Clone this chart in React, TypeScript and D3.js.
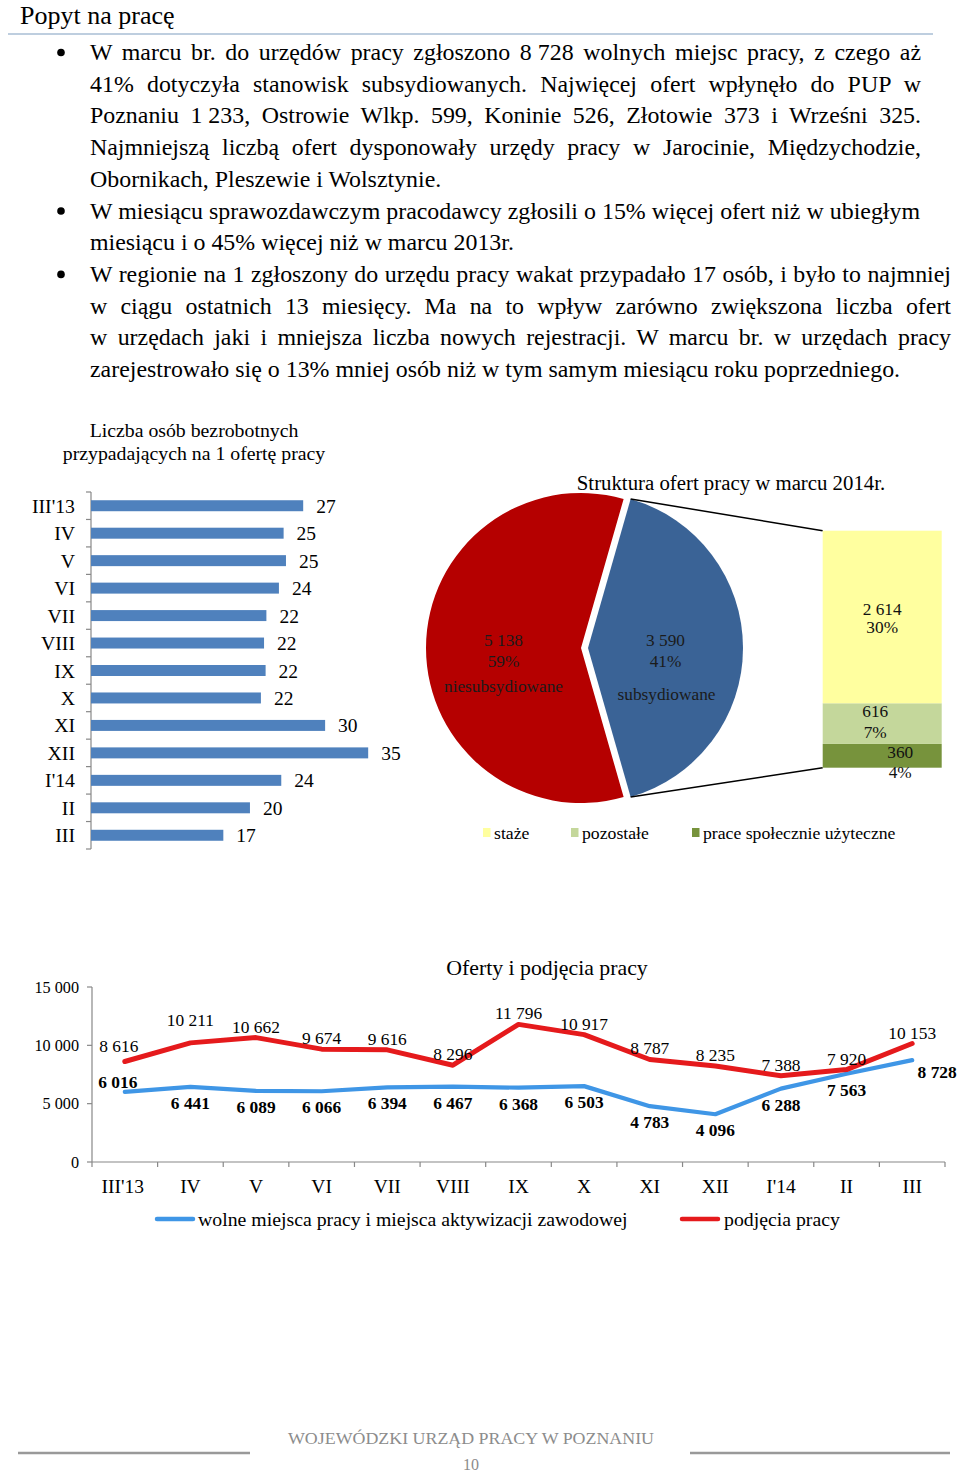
import React, { useLayoutEffect, useRef } from "react";
import * as d3 from "d3";

const FONT = "'Liberation Serif','Times New Roman',Times,serif";

// ---------- text ----------
const pageTitle = "Popyt na pracę";
const bulletParagraphs = [
  {
    right: 921,
    lines: [
      "W marcu br. do urzędów pracy zgłoszono 8 728 wolnych miejsc pracy, z czego aż",
      "41% dotyczyła stanowisk subsydiowanych. Najwięcej ofert wpłynęło do PUP w",
      "Poznaniu 1 233, Ostrowie Wlkp. 599, Koninie 526, Złotowie 373 i Wrześni 325.",
      "Najmniejszą liczbą ofert dysponowały urzędy pracy w Jarocinie, Międzychodzie,",
      "Obornikach, Pleszewie i Wolsztynie.",
    ],
  },
  {
    right: 920,
    lines: [
      "W miesiącu sprawozdawczym pracodawcy zgłosili o 15% więcej ofert niż w ubiegłym",
      "miesiącu i o 45% więcej niż w marcu 2013r.",
    ],
  },
  {
    right: 951,
    lines: [
      "W regionie na 1 zgłoszony do urzędu pracy wakat przypadało 17 osób, i było to najmniej",
      "w ciągu ostatnich 13 miesięcy. Ma na to wpływ zarówno zwiększona liczba ofert",
      "w urzędach jaki i mniejsza liczba nowych rejestracji. W marcu br. w urzędach pracy",
      "zarejestrowało się o 13% mniej osób niż w tym samym miesiącu roku poprzedniego.",
    ],
  },
];

// ---------- chart 1: bezrobotni na 1 ofertę ----------
const ratioTitle = ["Liczba osób bezrobotnych", "przypadających na 1 ofertę pracy"];
const ratioCategories = ["III'13", "IV", "V", "VI", "VII", "VIII", "IX", "X", "XI", "XII", "I'14", "II", "III"];
const ratioValues = [27.1, 24.6, 24.9, 24.0, 22.4, 22.1, 22.3, 21.7, 29.9, 35.4, 24.3, 20.3, 16.9];

// ---------- chart 2: struktura ofert ----------
const pieTitle = "Struktura ofert pracy w marcu 2014r.";
const pieNames = ["subsydiowane", "niesubsydiowane"];
const pieValues = [3590, 5138];
const subNames = ["prace społecznie użyteczne", "pozostałe", "staże"];
const subValues = [360, 616, 2614];
const legendOrder = ["staże", "pozostałe", "prace społecznie użyteczne"];

// ---------- chart 3: oferty i podjęcia ----------
const lineTitle = "Oferty i podjęcia pracy";
const months = ["III'13", "IV", "V", "VI", "VII", "VIII", "IX", "X", "XI", "XII", "I'14", "II", "III"];
const offers = [6016, 6441, 6089, 6066, 6394, 6467, 6368, 6503, 4783, 4096, 6288, 7563, 8728];
const placements = [8616, 10211, 10662, 9674, 9616, 8296, 11796, 10917, 8787, 8235, 7388, 7920, 10153];
const yTicks = [0, 5000, 10000, 15000];
const offersName = "wolne miejsca pracy i miejsca aktywizacji zawodowej";
const placementsName = "podjęcia pracy";

const footerText = "WOJEWÓDZKI URZĄD PRACY W POZNANIU";
const pageNumber = "10";

const locale = d3.formatLocale({ decimal: ",", thousands: " ", grouping: [3], currency: ["", ""] });
const fmt = locale.format(",d");
const pct = (v: number) => Math.round(v * 100) + "%";

const PROTECT = /(\d \d{3})/;

function Body() {
  const refs = useRef<(SVGTextElement | null)[]>([]);
  const items: { text: string; y: number; target: number | null; bullet: boolean }[] = [];
  let i = 0;
  bulletParagraphs.forEach((p) => {
    p.lines.forEach((l, j) => {
      items.push({
        text: l,
        y: 60 + 31.7 * i,
        target: j < p.lines.length - 1 ? p.right : null,
        bullet: j === 0,
      });
      i++;
    });
  });
  useLayoutEffect(() => {
    const run = () => {
      items.forEach((it, k) => {
        const el = refs.current[k];
        if (!el || it.target == null) return;
        el.setAttribute("word-spacing", "0");
        const w = el.getComputedTextLength();
        const protectedCount = (it.text.match(/\d \d{3}/g) || []).length;
        const spaces = (it.text.match(/ /g) || []).length - protectedCount;
        const ws = (it.target - 90 - w) / Math.max(1, spaces);
        el.setAttribute("word-spacing", String(ws));
      });
    };
    run();
    if ((document as any).fonts) (document as any).fonts.ready.then(run);
  });
  return (
    <g fontFamily={FONT} fontSize={23.9} fill="#000">
      {items.map((it, k) => (
        <g key={k}>
          {it.bullet && <circle cx={61} cy={it.y - 7.5} r={3.8} fill="#000" />}
          <text ref={(el) => (refs.current[k] = el)} x={90} y={it.y}>
            {it.text.split(PROTECT).map((s, m) =>
              PROTECT.test(s) ? (
                <tspan key={m} wordSpacing={0} style={{ wordSpacing: "0px" }}>
                  {s}
                </tspan>
              ) : (
                <tspan key={m}>{s}</tspan>
              )
            )}
          </text>
        </g>
      ))}
    </g>
  );
}

function RatioChart() {
  const x = d3.scaleLinear().domain([0, 40]).range([91, 404.2]);
  const y = d3.scaleBand<string>().domain(ratioCategories).range([492, 849]).paddingInner(0.6).paddingOuter(0.3);
  const step = y.step();
  return (
    <g fontFamily={FONT}>
      {ratioTitle.map((t, k) => (
        <text key={k} x={194} y={437 + k * 23} textAnchor="middle" fontSize={19.8}>
          {t}
        </text>
      ))}
      <line x1={91} x2={91} y1={492} y2={849} stroke="#888" strokeWidth={1.2} />
      {d3.range(ratioCategories.length + 1).map((k) => (
        <line key={k} x1={86} x2={91} y1={492 + k * step} y2={492 + k * step} stroke="#888" strokeWidth={1.2} />
      ))}
      {ratioCategories.map((c, k) => {
        const cy = (y(c) as number) + y.bandwidth() / 2;
        return (
          <g key={c}>
            <rect x={x(0)} y={y(c)} width={x(ratioValues[k]) - x(0)} height={y.bandwidth()} fill="#4f81bd" />
            <text x={75} y={cy + 7} textAnchor="end" fontSize={19.8}>
              {c}
            </text>
            <text x={x(ratioValues[k]) + 13} y={cy + 7} fontSize={19.5}>
              {Math.round(ratioValues[k])}
            </text>
          </g>
        );
      })}
    </g>
  );
}

function PieChart() {
  const cx = 584.5,
    cy = 648,
    r = 155,
    explode = 3.5;
  const total = d3.sum(pieValues);
  const start = Math.PI / 2 - (pieValues[0] / total) * Math.PI;
  const arcs = d3
    .pie<number>()
    .sort(null)
    .startAngle(start)
    .endAngle(start + 2 * Math.PI)(pieValues);
  const arcGen = d3.arc<d3.PieArcDatum<number>>().innerRadius(0).outerRadius(r);
  const colors = ["#3a6396", "#b50000"];
  const nameDy = [52, 44];

  // stacked column
  const bx0 = 822.7,
    bx1 = 941.7;
  const sy = d3.scaleLinear().domain([0, pieValues[0]]).range([767.7, 530.7]);
  const subColors = ["#77933c", "#c4d79b", "#ffff9f"];
  const subLabelPos = [
    { dx: 18, dy1: 2, dy2: 22 },
    { dx: -7, dy1: -7, dy2: 14 },
    { dx: 0, dy1: -2, dy2: 16 },
  ];
  let acc = 0;
  const segs = subValues.map((v, k) => {
    const s = { k, y0: acc, y1: acc + v, v };
    acc += v;
    return s;
  });
  const blue = arcs[0];
  const bMid = (blue.startAngle + blue.endAngle) / 2;
  const bcx = cx + Math.sin(bMid) * explode;
  const bcy = cy - Math.cos(bMid) * explode;
  const pTop = [bcx + r * Math.sin(blue.startAngle), bcy - r * Math.cos(blue.startAngle)];
  const pBot = [bcx + r * Math.sin(blue.endAngle), bcy - r * Math.cos(blue.endAngle)];

  const legendX = [483, 571, 692];
  return (
    <g fontFamily={FONT}>
      <text x={731} y={490} textAnchor="middle" fontSize={20.8}>
        {pieTitle}
      </text>
      {arcs.map((a, k) => {
        const mid = (a.startAngle + a.endAngle) / 2;
        const dx = Math.sin(mid) * explode;
        const dy = -Math.cos(mid) * explode;
        const [lx, ly] = arcGen.centroid(a);
        return (
          <g key={k} transform={`translate(${cx + dx},${cy + dy})`}>
            <path d={arcGen(a) || ""} fill={colors[k]} />
            <g fontSize={17.3} fill="#1b1b1b" textAnchor="middle">
              <text x={lx} y={ly - 2}>
                {fmt(pieValues[k])}
              </text>
              <text x={lx} y={ly + 19}>
                {pct(pieValues[k] / total)}
              </text>
              <text x={lx + (k === 0 ? 1 : 0)} y={ly + nameDy[k]}>
                {pieNames[k]}
              </text>
            </g>
          </g>
        );
      })}
      <line x1={pTop[0]} y1={pTop[1]} x2={bx0} y2={sy(pieValues[0])} stroke="#000" strokeWidth={1.5} />
      <line x1={pBot[0]} y1={pBot[1]} x2={bx0} y2={sy(0)} stroke="#000" strokeWidth={1.5} />
      {segs.map((s) => (
        <rect key={s.k} x={bx0} width={bx1 - bx0} y={sy(s.y1)} height={sy(s.y0) - sy(s.y1)} fill={subColors[s.k]} />
      ))}
      {segs.map((s) => {
        const mid = (sy(s.y0) + sy(s.y1)) / 2;
        const p = subLabelPos[s.k];
        const lx = (bx0 + bx1) / 2 + p.dx;
        return (
          <g key={s.k} fontSize={17.3} fill="#111" textAnchor="middle">
            <text x={lx} y={mid + p.dy1}>
              {fmt(s.v)}
            </text>
            <text x={lx} y={mid + p.dy2}>
              {pct(s.v / total)}
            </text>
          </g>
        );
      })}
      {legendOrder.map((name, k) => {
        const idx = subNames.indexOf(name);
        return (
          <g key={name}>
            <rect x={legendX[k]} y={828} width={7.5} height={9} fill={subColors[idx]} />
            <text x={legendX[k] + 11} y={839} fontSize={17.7}>
              {name}
            </text>
          </g>
        );
      })}
    </g>
  );
}

function LineChart() {
  const x = d3.scaleBand<string>().domain(months).range([92, 945]);
  const y = d3.scaleLinear().domain([0, 15000]).range([1162, 987]);
  const cxs = months.map((m) => (x(m) as number) + x.bandwidth() / 2);
  const line = d3
    .line<number>()
    .x((_, i) => cxs[i])
    .y((d) => y(d));
  const red = "#e51a1c";
  const blue = "#3f96e6";
  const n = months.length;
  return (
    <g fontFamily={FONT}>
      <text x={547} y={975} textAnchor="middle" fontSize={21.8}>
        {lineTitle}
      </text>
      <line x1={92} x2={92} y1={987} y2={1162} stroke="#888" strokeWidth={1.2} />
      <line x1={92} x2={945} y1={1162} y2={1162} stroke="#888" strokeWidth={1.2} />
      {yTicks.map((t) => (
        <g key={t}>
          <line x1={87} x2={92} y1={y(t)} y2={y(t)} stroke="#888" strokeWidth={1.2} />
          <text x={79} y={y(t) + 5.5} textAnchor="end" fontSize={16.2}>
            {fmt(t)}
          </text>
        </g>
      ))}
      {d3.range(n + 1).map((k) => (
        <line key={k} x1={92 + k * x.step()} x2={92 + k * x.step()} y1={1162} y2={1167} stroke="#888" strokeWidth={1.2} />
      ))}
      {months.map((m, k) => (
        <text key={m} x={cxs[k] - (k === 0 ? 2 : 0)} y={1193} textAnchor="middle" fontSize={19.5}>
          {m}
        </text>
      ))}
      <path d={line(offers) || ""} fill="none" stroke={blue} strokeWidth={4.2} strokeLinejoin="round" strokeLinecap="round" />
      <path d={line(placements) || ""} fill="none" stroke={red} strokeWidth={5} strokeLinejoin="round" strokeLinecap="round" />
      {placements.map((v, k) => (
        <text key={k} x={cxs[k] - (k === 0 ? 6 : 0)} y={y(v) - (k === 0 ? 9 : k === 1 ? 17 : 5)} textAnchor="middle" fontSize={17.4}>
          {fmt(v)}
        </text>
      ))}
      {offers.map((v, k) => {
        let lx = cxs[k];
        let ly = y(v) + 22;
        if (k === 0) {
          lx -= 7;
          ly = y(v) - 4;
        }
        if (k === n - 1) {
          lx += 25;
          ly = y(v) + 18;
        }
        return (
          <text key={k} x={lx} y={ly} textAnchor="middle" fontSize={17.4} fontWeight="bold">
            {fmt(v)}
          </text>
        );
      })}
      <line x1={157} x2={193} y1={1219} y2={1219} stroke={blue} strokeWidth={4.5} strokeLinecap="round" />
      <text x={198} y={1226} fontSize={19.8}>
        {offersName}
      </text>
      <line x1={682} x2={718} y1={1219} y2={1219} stroke={red} strokeWidth={4.5} strokeLinecap="round" />
      <text x={724} y={1226} fontSize={19.8}>
        {placementsName}
      </text>
    </g>
  );
}

export default function App() {
  return (
    <svg
      width={960}
      height={1476}
      viewBox="0 0 960 1476"
      style={{ position: "absolute", left: 0, top: 0, background: "#fff" }}
    >
      <rect x={0} y={0} width={960} height={1476} fill="#fff" />
      <text x={20} y={24} fontFamily={FONT} fontSize={26}>
        {pageTitle}
      </text>
      <line x1={8} x2={933} y1={34} y2={34} stroke="#7f9dc0" strokeWidth={1.2} />
      <Body />
      <RatioChart />
      <PieChart />
      <LineChart />
      <g fontFamily={FONT} fill="#8c8c8c">
        <text x={471} y={1444} textAnchor="middle" fontSize={17} textLength={366} lengthAdjust="spacingAndGlyphs">
          {footerText}
        </text>
        <line x1={18} x2={250} y1={1453} y2={1453} stroke="#999" strokeWidth={2.5} />
        <line x1={690} x2={950} y1={1453} y2={1453} stroke="#999" strokeWidth={2.5} />
        <text x={471} y={1470} textAnchor="middle" fontSize={16}>
          {pageNumber}
        </text>
      </g>
    </svg>
  );
}
